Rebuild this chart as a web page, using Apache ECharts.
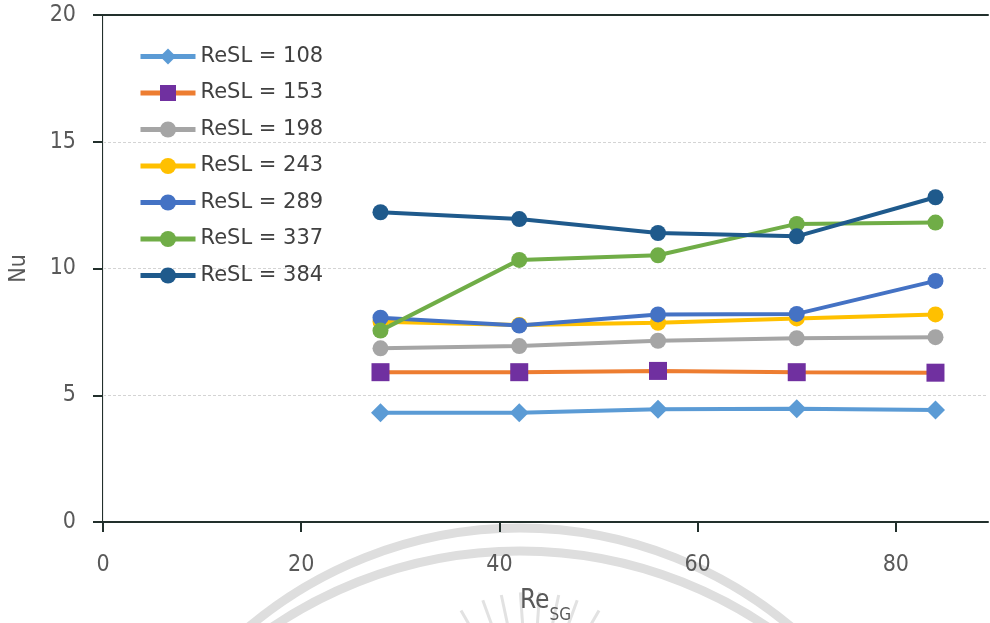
<!DOCTYPE html>
<html>
<head>
<meta charset="utf-8">
<script src="https://cdn.jsdelivr.net/npm/echarts@6/dist/echarts.min.js"></script>
<style>html,body{margin:0;padding:0;background:#fff;}#c{width:990px;height:623px;}</style>
</head>
<body>
<div id="c"></div>
<script>
const resSG = [28, 42, 56, 70, 84];
const xTicks = [0, 20, 40, 60, 80];
const seriesNames = ['ReSL = 108', 'ReSL = 153', 'ReSL = 198', 'ReSL = 243', 'ReSL = 289', 'ReSL = 337', 'ReSL = 384'];
const nu108 = [4.31, 4.31, 4.45, 4.47, 4.42];
const nu153 = [5.91, 5.91, 5.96, 5.91, 5.89];
const nu198 = [6.85, 6.94, 7.15, 7.25, 7.29];
const nu243 = [7.90, 7.77, 7.86, 8.03, 8.19];
const nu289 = [8.06, 7.75, 8.19, 8.21, 9.51];
const nu337 = [7.55, 10.34, 10.52, 11.76, 11.81];
const nu384 = [12.22, 11.95, 11.40, 11.27, 12.81];

const allValues = [nu108, nu153, nu198, nu243, nu289, nu337, nu384];
const lineColors = ['#5b9bd5', '#ed7d31', '#a5a5a5', '#ffc000', '#4472c4', '#70ad47', '#1f5a8c'];
const markColors = ['#5b9bd5', '#7030a0', '#a5a5a5', '#ffc000', '#4472c4', '#70ad47', '#1f5a8c'];
const symbols = ['diamond', 'rect', 'circle', 'circle', 'circle', 'circle', 'circle'];
const symbolSizes = [19, 18, 16, 16, 16, 16, 16];

const chart = echarts.init(document.getElementById('c'), null, {renderer: 'canvas'});
const axisColor = '#22302c';
const labelColor = '#595959';
const FONT = 'DejaVu Sans';
const NARROW = '"DejaVu Sans Condensed", "DejaVu Sans"';

const series = allValues.map((vals, i) => ({
  name: seriesNames[i],
  type: 'line',
  data: vals.map((v, j) => [resSG[j], v]),
  symbol: symbols[i],
  symbolSize: symbolSizes[i],
  lineStyle: {color: lineColors[i], width: 4},
  itemStyle: {color: markColors[i]},
  emphasis: {disabled: true},
  animation: false,
  z: 3 + i
}));

// watermark arcs and rays
const graphics = [
  {type: 'arc', shape: {cx: 520, cy: 949, r: 421, startAngle: Math.PI, endAngle: 2 * Math.PI}, style: {stroke: '#dedede', lineWidth: 9, fill: null}, z: -1, silent: true},
  {type: 'arc', shape: {cx: 520, cy: 992, r: 441, startAngle: Math.PI, endAngle: 2 * Math.PI}, style: {stroke: '#dedede', lineWidth: 9, fill: null}, z: -1, silent: true}
];
const rayAngles = [205, 218, 230, 240, 250, 258, 266, 274, 282, 290, 300, 310, 322, 335];
rayAngles.forEach(a => {
  const t = a * Math.PI / 180;
  const cx = 530, cy = 730;
  graphics.push({type: 'line', shape: {x1: cx + 100 * Math.cos(t), y1: cy + 100 * Math.sin(t), x2: cx + 138 * Math.cos(t), y2: cy + 138 * Math.sin(t)}, style: {stroke: '#e2e2e2', lineWidth: 3}, z: -1, silent: true});
});

chart.setOption({
  backgroundColor: '#ffffff',
  animation: false,
  textStyle: {fontFamily: FONT},
  grid: {left: 103, right: 2, top: 15, bottom: 101, containLabel: false, outerBoundsMode: 'none'},
  legend: {
    orient: 'vertical',
    left: 133,
    top: 41,
    itemWidth: 55,
    itemHeight: 20,
    itemGap: 15.5,
    selectedMode: false,
    data: seriesNames,
    lineStyle: {width: 5},
    textStyle: {fontFamily: FONT, fontSize: 21, lineHeight: 20, color: '#404040'}
  },
  xAxis: [{
    type: 'value',
    min: 0,
    max: 89.3,
    position: 'bottom',
    axisLine: {show: true, onZero: false, lineStyle: {color: axisColor, width: 2}},
    axisTick: {show: true, length: 10, lineStyle: {color: axisColor, width: 2}, customValues: xTicks},
    axisLabel: {customValues: xTicks, color: labelColor, fontSize: 23, fontFamily: NARROW, margin: 32},
    splitLine: {show: false},
    name: '{a|Re}{b|SG}',
    nameLocation: 'middle',
    nameGap: 66,
    nameTextStyle: {
      color: labelColor,
      rich: {
        a: {fontSize: 26, fontFamily: NARROW, color: labelColor, verticalAlign: 'bottom'},
        b: {fontSize: 17, fontFamily: NARROW, color: labelColor, verticalAlign: 'bottom', padding: [0, 0, -10, 0]}
      }
    }
  }, {
    type: 'value',
    min: 0,
    max: 89.3,
    position: 'top',
    axisLine: {show: true, onZero: false, lineStyle: {color: axisColor, width: 2}},
    axisTick: {show: false},
    axisLabel: {show: false},
    splitLine: {show: false}
  }],
  yAxis: [{
    type: 'value',
    min: 0,
    max: 20,
    interval: 5,
    axisLine: {show: true, onZero: false, lineStyle: {color: axisColor, width: 2}},
    axisTick: {show: true, length: 10, lineStyle: {color: axisColor, width: 2}},
    axisLabel: {color: labelColor, fontSize: 23, fontFamily: NARROW, margin: 27},
    splitLine: {show: true, lineStyle: {color: '#d4d4d4', width: 1, type: [3, 2]}},
    name: 'Nu',
    nameLocation: 'middle',
    nameRotate: 90,
    nameGap: 72,
    nameTextStyle: {color: labelColor, fontSize: 23, fontFamily: NARROW}
  }, {
    type: 'value',
    min: 0,
    max: 20,
    position: 'right',
    axisLine: {show: true, lineStyle: {color: '#ececec', width: 1}},
    axisTick: {show: false},
    axisLabel: {show: false},
    splitLine: {show: false}
  }],
  graphic: graphics,
  series: series
});
</script>
</body>
</html>
